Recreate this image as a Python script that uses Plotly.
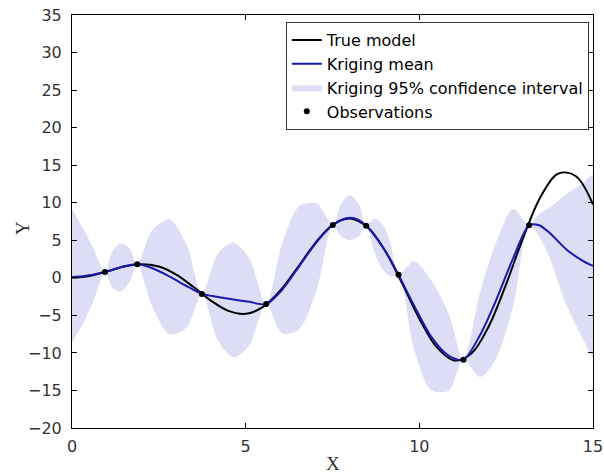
import plotly.graph_objects as go

true_x = [0.0, 0.5, 1.0, 1.5, 2.0, 2.5, 3.0, 3.5, 4.0, 4.5, 5.0, 5.5, 6.0, 6.5, 7.0, 7.5,
          8.0, 8.5, 9.0, 9.5, 10.0, 10.5, 11.0, 11.5, 12.0, 12.5, 13.0, 13.5, 14.0, 14.5, 15.0]
true_y = [0.0, 0.24, 0.84, 1.50, 1.82, 1.50, 0.42, -1.23, -3.03, -4.40, -4.79, -3.88, -1.68,
          1.40, 4.60, 7.03, 7.91, 6.79, 3.71, -0.71, -5.44, -9.24, -11.00, -10.07, -6.44,
          -0.83, 5.46, 10.86, 13.87, 13.56, 9.75]

# Kriging mean and 95% confidence interval
krig_x = [0.0, 0.3, 0.6, 0.95, 1.15, 1.4, 1.65, 1.88, 2.3, 2.8, 3.3, 3.74, 4.2, 4.65, 5.1, 5.59,
          6.05, 6.55, 7.05, 7.51, 7.75, 8.0, 8.25, 8.47, 8.7, 8.93, 9.17, 9.4, 9.85, 10.35, 10.85,
          11.27, 11.75, 12.2, 12.7, 13.16, 13.45, 13.77, 14.25, 14.73, 15.0]
krig_mean = [0.1, 0.2, 0.4, 0.77, 1.05, 1.4, 1.68, 1.8, 1.3, 0.2, -1.1, -2.14, -2.55, -2.9, -3.2,
             -3.5, -1.6, 1.6, 4.8, 7.03, 7.7, 8.0, 7.7, 6.92, 5.7, 4.2, 2.4, 0.4, -3.7, -7.9,
             -10.4, -10.9, -7.6, -3.1, 2.6, 7.0, 7.0, 5.9, 3.7, 2.2, 1.6]
ci_upper = [9.2, 6.7, 4.1, 0.77, 3.35, 4.6, 3.98, 1.8, 6.3, 7.8, 4.4, -2.14, 3.25, 4.7, 2.6, -3.5,
            4.6, 9.6, 9.9, 7.03, 9.9, 11.0, 9.9, 6.92, 7.9, 7.2, 4.6, 0.4, 2.2, -0.4, -4.8,
            -10.9, -1.9, 4.6, 9.2, 7.0, 8.5, 9.4, 11.2, 12.7, 13.7]
ci_lower = [-8.5, -6.3, -3.3, 0.77, -1.25, -1.8, -0.62, 1.8, -3.7, -7.5, -6.6, -2.14, -8.35, -10.6,
            -9.0, -3.5, -7.4, -6.8, -1.5, 7.03, 5.5, 5.0, 5.5, 6.92, 3.5, 1.2, 0.2, 0.4, -9.6,
            -15.0, -15.0, -10.9, -13.2, -10.8, -3.8, 7.0, 5.5, 2.4, -3.8, -8.3, -10.5]

# Observations
obs_x = [0.95, 1.88, 3.74, 5.59, 7.51, 8.47, 9.40, 11.27, 13.16]
obs_y = [0.77, 1.80, -2.14, -3.50, 7.03, 6.92, 0.40, -10.90, 7.00]

x_ticks = [0, 5, 10, 15]
y_ticks = [-20, -15, -10, -5, 0, 5, 10, 15, 20, 25, 30, 35]

fig = go.Figure()

fig.add_trace(go.Scatter(
    x=krig_x + krig_x[::-1], y=ci_upper + ci_lower[::-1],
    fill="toself", fillcolor="rgb(221,221,245)", mode="lines",
    line=dict(width=0, shape="spline", smoothing=0.8, color="rgba(0,0,0,0)"),
    name="Kriging 95% confidence interval", legendrank=3, hoverinfo="skip"))

fig.add_trace(go.Scatter(
    x=true_x, y=true_y, mode="lines",
    line=dict(color="black", width=2, shape="spline"),
    name="True model", legendrank=1))

fig.add_trace(go.Scatter(
    x=krig_x, y=krig_mean, mode="lines",
    line=dict(color="rgb(25,25,175)", width=2, shape="spline", smoothing=0.8),
    name="Kriging mean", legendrank=2))

fig.add_trace(go.Scatter(
    x=obs_x, y=obs_y, mode="markers",
    marker=dict(color="black", size=6),
    name="Observations", legendrank=4))

axis_common = dict(
    showgrid=False, zeroline=False, showline=True, linecolor="black", linewidth=1,
    mirror="ticks", ticks="inside", ticklen=5, tickcolor="black", automargin=False,
    ticklabeloverflow="allow",
    tickfont=dict(family="DejaVu Sans", size=16, color="#333333"),
)

fig.update_xaxes(range=[0, 15], tickvals=x_ticks, ticklabelstandoff=4, **axis_common)
fig.update_yaxes(range=[-20, 35], tickvals=y_ticks, ticklabelstandoff=6, **axis_common)

title_font = dict(family="Liberation Serif", size=19, color="#333333")
fig.add_annotation(text="X", xref="paper", yref="paper", x=0.5, y=-0.085,
                   xanchor="center", yanchor="middle", showarrow=False, font=title_font)
fig.add_annotation(text="Y", xref="paper", yref="paper", x=-0.096, y=0.484,
                   xanchor="center", yanchor="middle", showarrow=False, textangle=-90,
                   font=title_font)

fig.update_layout(
    width=604, height=475,
    margin=dict(l=72, r=11, t=15, b=47),
    plot_bgcolor="white", paper_bgcolor="white",
    legend=dict(x=0.992, y=0.983, xanchor="right", yanchor="top",
                bgcolor="white", bordercolor="#333333", borderwidth=1,
                font=dict(family="DejaVu Sans", size=16, color="black"),
                tracegroupgap=0, itemwidth=30),
    showlegend=True,
)

fig.write_html("out.html", config={"displayModeBar": False},
               post_script="document.body.style.margin='0';")
